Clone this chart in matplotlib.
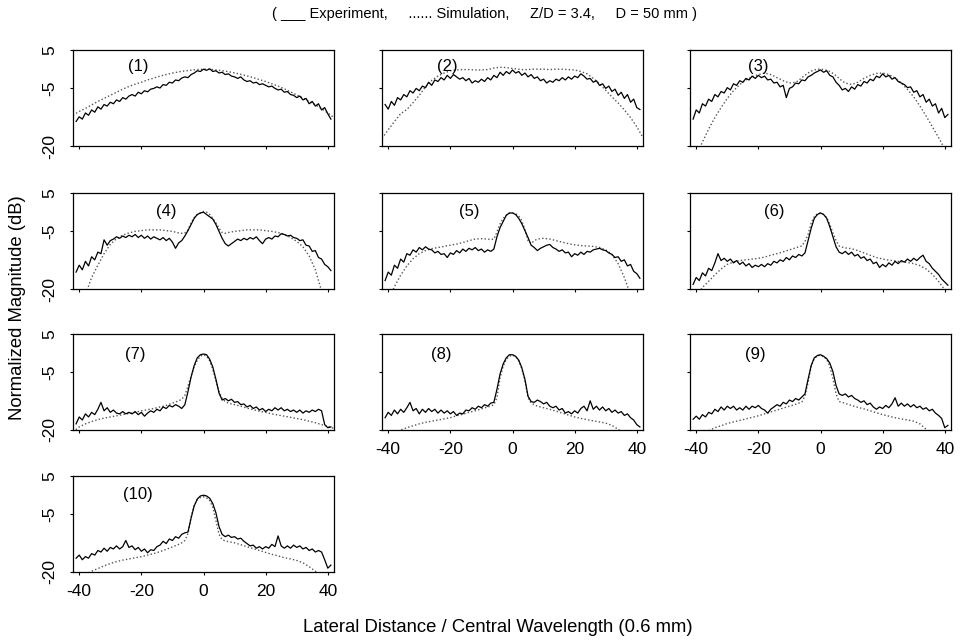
import matplotlib

matplotlib.use("Agg")
import matplotlib.pyplot as plt

plt.rcParams["font.family"] = ["Liberation Sans", "DejaVu Sans"]
plt.rcParams["axes.unicode_minus"] = False

# lateral positions (in central wavelengths)
exp_x = list(range(-41, 42))
sim_x = list(range(-42, -7, 2)) + list(range(-7, 8)) + list(range(8, 43, 2))

# ---- measured profiles (dB), one value per exp_x ----
exp_1 = [-13.6, -12.4, -13.0, -11.4, -12.0, -10.6, -11.2, -9.8, -10.4, -9.2, -9.6, -8.6, -9.0, -8.0,
         -8.4, -7.4, -7.8, -7.0, -6.6, -7.0, -6.0, -6.4, -5.6, -5.9, -5.2, -5.0, -4.6, -4.9, -4.0,
         -4.2, -3.4, -3.6, -2.8, -3.0, -2.3, -2.0, -2.2, -1.4, -1.0, -0.4, -0.6, 0.0, -0.3, 0.1,
         -0.6, -0.4, -1.0, -0.8, -1.4, -1.2, -1.8, -2.0, -2.4, -2.0, -2.8, -3.2, -3.0, -3.6, -3.4,
         -4.0, -3.8, -4.2, -4.6, -4.4, -5.0, -5.4, -5.2, -6.0, -5.8, -6.6, -6.8, -7.4, -7.0, -8.0,
         -7.6, -9.0, -8.4, -9.6, -9.0, -10.6, -10.0, -11.6, -13.0]
exp_2 = [-9.2, -10.4, -8.4, -9.4, -7.4, -8.0, -6.6, -7.2, -5.6, -6.2, -5.0, -5.6, -4.4, -4.8,
         -3.4, -4.2, -2.8, -3.2, -2.2, -2.8, -1.6, -2.4, -1.4, -2.0, -2.6, -2.2, -3.0, -2.4, -3.6,
         -3.0, -3.4, -2.6, -3.2, -2.2, -2.8, -1.6, -2.2, -0.8, -1.6, -0.6, -1.2, -0.2, -1.0, -0.6,
         -1.6, -1.0, -2.0, -1.4, -2.4, -2.0, -3.0, -2.6, -3.6, -3.0, -3.4, -2.6, -3.0, -2.2, -2.8,
         -2.0, -2.6, -1.8, -2.2, -1.2, -1.8, -2.6, -2.4, -3.4, -3.0, -4.2, -3.8, -5.0, -4.4, -5.8,
         -5.2, -6.8, -6.0, -7.6, -6.6, -8.6, -7.8, -10.0, -10.5]
exp_3 = [-13.0, -10.6, -11.4, -9.0, -9.6, -7.8, -8.4, -6.6, -7.2, -5.8, -6.2, -4.8, -5.4, -3.8,
         -4.2, -3.0, -3.4, -2.4, -2.8, -1.8, -2.4, -1.6, -2.2, -1.8, -2.8, -2.6, -3.6, -3.4, -4.6,
         -4.2, -7.4, -5.0, -4.6, -3.6, -3.8, -2.8, -3.0, -2.0, -1.6, -1.0, -0.6, -0.2, -0.8, -0.4,
         -1.6, -2.0, -3.4, -4.2, -5.4, -5.0, -5.8, -4.6, -5.2, -4.0, -4.4, -3.2, -3.6, -2.6, -3.0,
         -1.8, -2.2, -1.2, -2.0, -1.6, -2.6, -2.2, -3.2, -3.6, -4.0, -4.8, -4.6, -6.0, -5.6, -7.2,
         -6.6, -8.6, -7.8, -9.6, -9.0, -11.4, -10.2, -12.6, -11.8]
exp_4 = [-15.6, -13.8, -15.0, -12.8, -14.0, -11.6, -12.4, -10.4, -10.8, -7.2, -8.6, -7.4, -7.0,
         -6.4, -6.8, -6.2, -6.6, -6.0, -6.4, -5.8, -6.6, -6.0, -6.8, -6.2, -7.0, -6.4, -6.8, -7.2,
         -6.6, -7.4, -6.8, -7.8, -9.4, -8.0, -7.4, -6.2, -4.8, -3.2, -1.6, -0.6, -0.2, 0.0, -0.6,
         -1.2, -1.8, -3.2, -5.0, -6.8, -8.2, -8.8, -8.2, -7.6, -7.0, -7.4, -6.8, -7.2, -6.6, -7.0,
         -6.4, -7.4, -8.2, -7.0, -6.6, -7.0, -6.2, -6.4, -5.6, -5.8, -6.2, -6.0, -6.6, -6.8, -7.4,
         -7.2, -8.6, -8.8, -10.2, -10.0, -11.8, -12.2, -13.6, -14.2, -15.2]
exp_5 = [-17.8, -15.6, -16.4, -13.8, -14.6, -12.2, -13.0, -10.8, -11.2, -9.8, -10.4, -9.2, -9.8,
         -9.0, -9.6, -9.8, -10.6, -10.2, -11.0, -10.8, -11.8, -10.6, -11.0, -10.0, -10.6, -9.6,
         -10.2, -9.4, -9.8, -9.2, -10.0, -9.6, -10.4, -9.8, -10.2, -9.6, -6.4, -4.0, -2.4, -0.8,
         -0.2, -0.2, -0.6, -1.6, -3.0, -4.8, -6.6, -8.6, -9.2, -10.0, -9.4, -9.0, -8.6, -8.4, -9.2,
         -9.6, -10.2, -9.8, -10.6, -10.4, -11.6, -10.8, -11.2, -10.4, -11.0, -10.2, -10.4, -9.8,
         -9.6, -9.4, -9.8, -10.0, -10.6, -11.0, -11.8, -11.6, -12.8, -12.4, -14.0, -13.6, -15.4,
         -16.0, -17.2]
exp_6 = [-18.8, -17.0, -17.8, -15.8, -16.6, -14.6, -15.2, -13.2, -10.8, -12.6, -12.0, -12.8,
         -12.2, -13.2, -12.6, -13.6, -13.0, -14.0, -13.4, -14.4, -13.8, -14.2, -13.6, -14.2, -13.4,
         -13.8, -12.8, -13.2, -12.4, -12.8, -11.8, -12.4, -11.4, -11.8, -11.0, -11.4, -10.6, -7.4,
         -4.2, -1.6, -0.6, -0.2, -0.6, -1.6, -3.8, -6.4, -9.0, -10.4, -10.8, -10.2, -11.0, -10.4,
         -11.4, -11.0, -12.0, -11.6, -12.6, -12.2, -13.4, -13.0, -14.4, -13.6, -14.2, -13.2, -13.8,
         -12.8, -13.4, -12.6, -13.0, -12.2, -12.8, -12.0, -12.6, -11.8, -11.2, -12.8, -13.4, -14.6,
         -15.4, -16.2, -17.4, -18.2, -19.0]
exp_7 = [-18.4, -16.6, -17.4, -15.8, -16.6, -15.4, -16.0, -14.6, -12.8, -15.0, -14.2, -15.4,
         -14.8, -15.6, -15.8, -15.2, -15.8, -15.4, -15.8, -15.2, -16.0, -15.4, -16.4, -15.6, -15.0,
         -15.4, -14.6, -15.0, -14.0, -14.4, -13.6, -14.0, -13.4, -13.8, -14.4, -13.4, -10.0, -6.2,
         -3.2, -1.2, -0.4, -0.2, -0.4, -1.6, -3.6, -6.8, -10.4, -12.2, -11.8, -12.4, -12.0, -12.8,
         -12.6, -13.4, -13.2, -14.0, -13.6, -14.4, -14.0, -14.8, -14.4, -15.2, -14.6, -15.0, -14.2,
         -14.8, -14.2, -15.0, -14.6, -15.2, -14.8, -15.4, -14.8, -15.6, -15.0, -15.4, -14.8, -15.2,
         -14.6, -15.0, -18.6, -19.4, -19.2]
exp_8 = [-16.8, -15.4, -16.2, -14.8, -15.8, -14.6, -15.4, -14.2, -12.8, -15.0, -14.4, -15.8,
         -14.6, -15.4, -14.4, -15.2, -14.6, -15.6, -14.8, -15.6, -15.0, -15.8, -15.2, -16.2, -15.6,
         -15.8, -14.8, -15.0, -14.2, -14.6, -13.8, -14.2, -13.4, -13.8, -13.0, -12.8, -9.4, -5.4,
         -2.8, -1.2, -0.4, -0.4, -0.8, -1.8, -3.8, -6.8, -11.2, -12.6, -12.8, -12.2, -12.6, -13.2,
         -12.8, -13.8, -14.2, -13.8, -14.8, -14.4, -15.6, -15.2, -15.8, -15.0, -15.6, -14.4, -13.8,
         -15.0, -12.4, -14.6, -13.8, -14.8, -14.0, -15.0, -14.4, -15.4, -14.8, -15.6, -15.2, -16.2,
         -15.8, -16.8, -17.4, -18.6, -19.2]
exp_9 = [-17.2, -16.4, -17.2, -16.0, -16.6, -15.4, -15.8, -14.6, -15.2, -14.0, -14.8, -13.8,
         -14.4, -13.8, -14.8, -14.2, -14.8, -13.8, -14.6, -13.8, -14.2, -13.6, -14.4, -14.8, -15.6,
         -14.6, -14.0, -13.4, -13.8, -12.8, -13.2, -12.2, -12.6, -11.8, -12.2, -11.4, -10.6, -6.8,
         -3.2, -1.2, -0.6, -0.4, -0.8, -1.4, -2.6, -4.8, -8.4, -10.6, -11.0, -10.6, -11.4, -11.0,
         -11.8, -12.2, -12.8, -12.4, -13.4, -13.0, -14.0, -14.6, -14.0, -14.4, -13.6, -14.2, -13.2,
         -11.6, -13.8, -13.0, -13.8, -13.2, -14.0, -13.4, -14.2, -13.8, -14.6, -14.2, -15.0, -14.6,
         -15.6, -16.2, -17.0, -19.4, -18.8]
exp_10 = [-16.4, -15.6, -16.8, -16.0, -16.4, -15.2, -15.6, -14.4, -14.8, -13.8, -14.6, -13.6,
          -14.0, -13.2, -14.0, -13.4, -11.8, -13.6, -13.2, -14.2, -13.6, -14.6, -14.0, -15.0, -14.2,
          -14.4, -13.4, -13.0, -12.0, -12.6, -11.4, -11.8, -10.8, -11.2, -10.2, -9.8, -9.6, -6.0,
          -2.8, -1.0, -0.2, 0.0, -0.2, -0.8, -2.2, -4.6, -8.2, -10.2, -10.8, -10.4, -11.0, -10.8,
          -11.4, -11.2, -12.0, -12.6, -13.2, -13.0, -13.8, -13.4, -14.0, -13.4, -13.8, -12.8, -13.4,
          -10.6, -13.2, -13.8, -13.2, -13.8, -13.0, -13.6, -13.2, -14.0, -13.6, -14.4, -14.0, -14.8,
          -14.4, -14.8, -16.8, -19.0, -18.2]

# ---- simulated profiles (dB), one value per sim_x ----
sim_1 = [-12.0, -11.0, -10.2, -9.3, -8.4, -7.6, -6.8, -6.0, -5.2, -4.5, -3.9, -3.4, -2.8, -2.3,
         -1.8, -1.4, -1.0, -0.7, -0.55, -0.45, -0.35, -0.25, -0.15, -0.1, -0.05, 0.0, 0.0, -0.05,
         -0.1, -0.2, -0.3, -0.4, -0.5, -0.65, -0.95, -1.35, -1.75, -2.2, -2.7, -3.2, -3.8, -4.4,
         -5.1, -5.9, -6.7, -7.5, -8.4, -9.3, -10.3, -11.4, -12.6]
sim_2 = [-18.0, -15.8, -13.6, -11.6, -10.5, -8.7, -6.8, -4.6, -2.9, -1.8, -1.0, -0.4, -0.2,
         -0.1, -0.1, -0.2, -0.2, -0.1, 0.1, 0.3, 0.4, 0.5, 0.5, 0.4, 0.3, 0.2, 0.1, 0.0, -0.1,
         -0.1, -0.1, 0.0, 0.0, 0.0, 0.0, -0.1, 0.0, 0.0, -0.1, -0.2, -0.6, -1.2, -2.4, -3.8, -5.5,
         -7.2, -8.8, -10.6, -12.6, -15.0, -17.8]
sim_3 = [-25.5, -22.5, -19.0, -15.6, -12.6, -10.0, -7.6, -5.6, -4.0, -2.8, -2.0, -1.4, -1.0,
         -1.4, -2.2, -3.0, -3.6, -3.4, -2.9, -2.2, -1.6, -1.0, -0.5, -0.2, 0.0, 0.0, -0.1, -0.3,
         -0.6, -1.1, -1.7, -2.4, -3.1, -3.6, -4.0, -3.4, -2.4, -1.6, -1.1, -1.0, -1.4, -2.3, -3.6,
         -5.3, -7.2, -9.6, -12.2, -15.0, -17.8, -20.8, -24.0]
sim_4 = [-30.0, -26.0, -21.5, -17.0, -13.8, -10.8, -8.4, -6.9, -6.0, -5.4, -5.0, -4.8, -4.6,
         -4.6, -4.6, -4.8, -5.0, -5.4, -5.5, -5.4, -4.6, -2.8, -1.4, -0.6, -0.2, 0.2, 0.0, -0.6,
         -1.6, -2.8, -4.2, -5.3, -5.5, -5.3, -5.0, -4.8, -4.6, -4.6, -4.6, -4.8, -5.0, -5.3, -5.7,
         -6.6, -7.6, -9.0, -11.4, -15.0, -20.5, -26.0, -32.0]
sim_5 = [-27.0, -23.0, -19.4, -16.4, -14.0, -12.1, -10.8, -10.0, -9.5, -9.2, -8.9, -8.6, -8.3,
         -7.9, -7.4, -7.0, -6.9, -7.0, -7.1, -7.0, -5.2, -3.0, -1.6, -0.8, -0.3, -0.2, -0.4, -1.0,
         -2.2, -4.6, -7.4, -8.2, -7.4, -7.0, -6.8, -7.0, -7.4, -7.8, -8.2, -8.5, -8.7, -8.8, -8.9,
         -9.2, -9.8, -11.0, -13.4, -17.0, -21.5, -26.0, -31.0]
sim_6 = [-25.0, -22.0, -19.6, -18.0, -16.3, -14.8, -13.6, -13.0, -12.6, -12.4, -12.2, -12.0,
         -11.7, -11.2, -10.8, -10.3, -9.8, -9.3, -9.0, -8.8, -7.6, -5.8, -2.8, -1.2, -0.4, -0.2,
         -0.6, -1.4, -3.2, -5.4, -7.4, -8.8, -9.1, -9.3, -9.5, -10.0, -10.6, -11.2, -11.8, -12.2,
         -12.5, -12.7, -12.9, -13.1, -13.4, -13.9, -14.8, -16.2, -18.0, -20.2, -23.0]
sim_7 = [-20.5, -19.2, -18.4, -17.8, -17.3, -16.9, -16.6, -16.3, -16.0, -15.7, -15.4, -15.0,
         -14.7, -14.4, -14.0, -13.6, -13.0, -12.4, -12.0, -11.0, -8.6, -6.0, -3.6, -1.8, -0.8,
         -0.4, -0.8, -2.0, -4.2, -7.2, -10.0, -11.8, -12.6, -13.0, -13.4, -13.8, -14.3, -14.7,
         -15.1, -15.4, -15.8, -16.1, -16.4, -16.7, -17.0, -17.3, -17.7, -18.1, -18.6, -19.0, -19.6]
sim_8 = [-22.5, -21.6, -20.8, -20.0, -19.4, -18.9, -18.4, -18.0, -17.7, -17.4, -17.1, -16.8,
         -16.3, -15.9, -15.4, -15.0, -14.5, -14.0, -13.8, -13.4, -11.6, -6.4, -3.4, -1.6, -0.8,
         -0.5, -0.9, -2.0, -4.0, -7.2, -11.6, -13.0, -13.4, -13.8, -14.2, -14.6, -15.1, -15.6,
         -16.1, -16.6, -17.0, -17.3, -17.6, -17.9, -18.2, -18.8, -19.8, -21.0, -22.2, -23.5, -25.0]
sim_9 = [-23.0, -22.0, -21.0, -20.2, -19.4, -18.9, -18.3, -17.9, -17.5, -17.1, -16.7, -16.3,
         -15.8, -15.3, -14.8, -14.3, -13.8, -13.3, -13.0, -12.7, -11.2, -7.6, -3.4, -1.4, -0.7,
         -0.5, -0.9, -1.6, -3.4, -6.6, -10.6, -12.6, -12.8, -13.1, -13.6, -14.1, -14.5, -15.0,
         -15.5, -16.0, -16.4, -16.8, -17.1, -17.4, -17.7, -18.4, -19.8, -21.0, -22.0, -23.0, -24.0]
sim_10 = [-22.6, -21.6, -20.7, -19.8, -19.1, -18.4, -17.8, -17.3, -16.9, -16.6, -16.3, -16.0,
          -15.6, -15.2, -14.7, -14.1, -13.5, -12.8, -12.4, -11.8, -10.0, -5.6, -2.6, -1.2, -0.6,
          -0.4, -0.7, -1.4, -3.2, -6.6, -10.2, -11.6, -11.9, -12.1, -12.4, -12.9, -13.4, -13.9,
          -14.4, -14.9, -15.4, -15.8, -16.3, -16.6, -17.0, -17.6, -18.6, -19.8, -21.0, -22.2, -23.4]

panel_labels = ["(1)", "(2)", "(3)", "(4)", "(5)", "(6)", "(7)", "(8)", "(9)", "(10)"]
label_x = [-21, -21, -20, -12, -14, -15, -22, -23, -21, -21]
label_y = [0.7, 0.6, 0.6, 0.3, 0.3, 0.3, -0.3, -0.3, -0.3, 0.3]
exp_data = [exp_1, exp_2, exp_3, exp_4, exp_5, exp_6, exp_7, exp_8, exp_9, exp_10]
sim_data = [sim_1, sim_2, sim_3, sim_4, sim_5, sim_6, sim_7, sim_8, sim_9, sim_10]

x_ticks = [-40, -20, 0, 20, 40]
y_ticks = [5, -5, -20]

W, H = 960, 643
col_left = [73, 382, 690]
row_top = [50, 193, 334, 476]
panel_w, panel_h = 261, 96

fig = plt.figure(figsize=(9.6, 6.43), dpi=100)

for i in range(10):
    row, col = divmod(i, 3)
    ax = fig.add_axes([col_left[col] / W, 1 - (row_top[row] + panel_h) / H,
                       panel_w / W, panel_h / H])
    ax.plot(sim_x, sim_data[i], color="#555555", linestyle=(0, (1, 1.6)), linewidth=1.0)
    ax.plot(exp_x, exp_data[i], color="black", linewidth=0.9)
    ax.text(label_x[i], label_y[i], panel_labels[i], ha="center", va="center", fontsize=12)

    ax.set_xlim(-42, 42)
    ax.set_ylim(-20, 5)
    ax.set_xticks(x_ticks)
    ax.set_yticks(y_ticks)
    ax.tick_params(direction="out", length=2.5, width=0.8, labelsize=12.5)
    ax.tick_params(axis="x", pad=6)
    ax.tick_params(axis="y", pad=9)
    for spine in ax.spines.values():
        spine.set_linewidth(0.9)

    if col == 0:
        ax.set_yticklabels([str(v) for v in y_ticks], rotation=90, va="center")
    else:
        ax.set_yticklabels([])
    if i in (7, 8, 9):
        ax.set_xticklabels([str(v) for v in x_ticks])
    else:
        ax.set_xticklabels([])

fig.text(0.505, 1 - 14 / H,
         "( ___ Experiment,     ...... Simulation,     Z/D = 3.4,     D = 50 mm )",
         ha="center", va="center", fontsize=10.5)
fig.text(18 / W, 1 - 308 / H, "Normalized Magnitude (dB)", rotation=90,
         ha="center", va="center", fontsize=13.3)
fig.text(498 / W, 1 - 628 / H, "Lateral Distance / Central Wavelength (0.6 mm)",
         ha="center", va="center", fontsize=13.3)

fig.savefig("out.png", dpi=100, facecolor="white")
